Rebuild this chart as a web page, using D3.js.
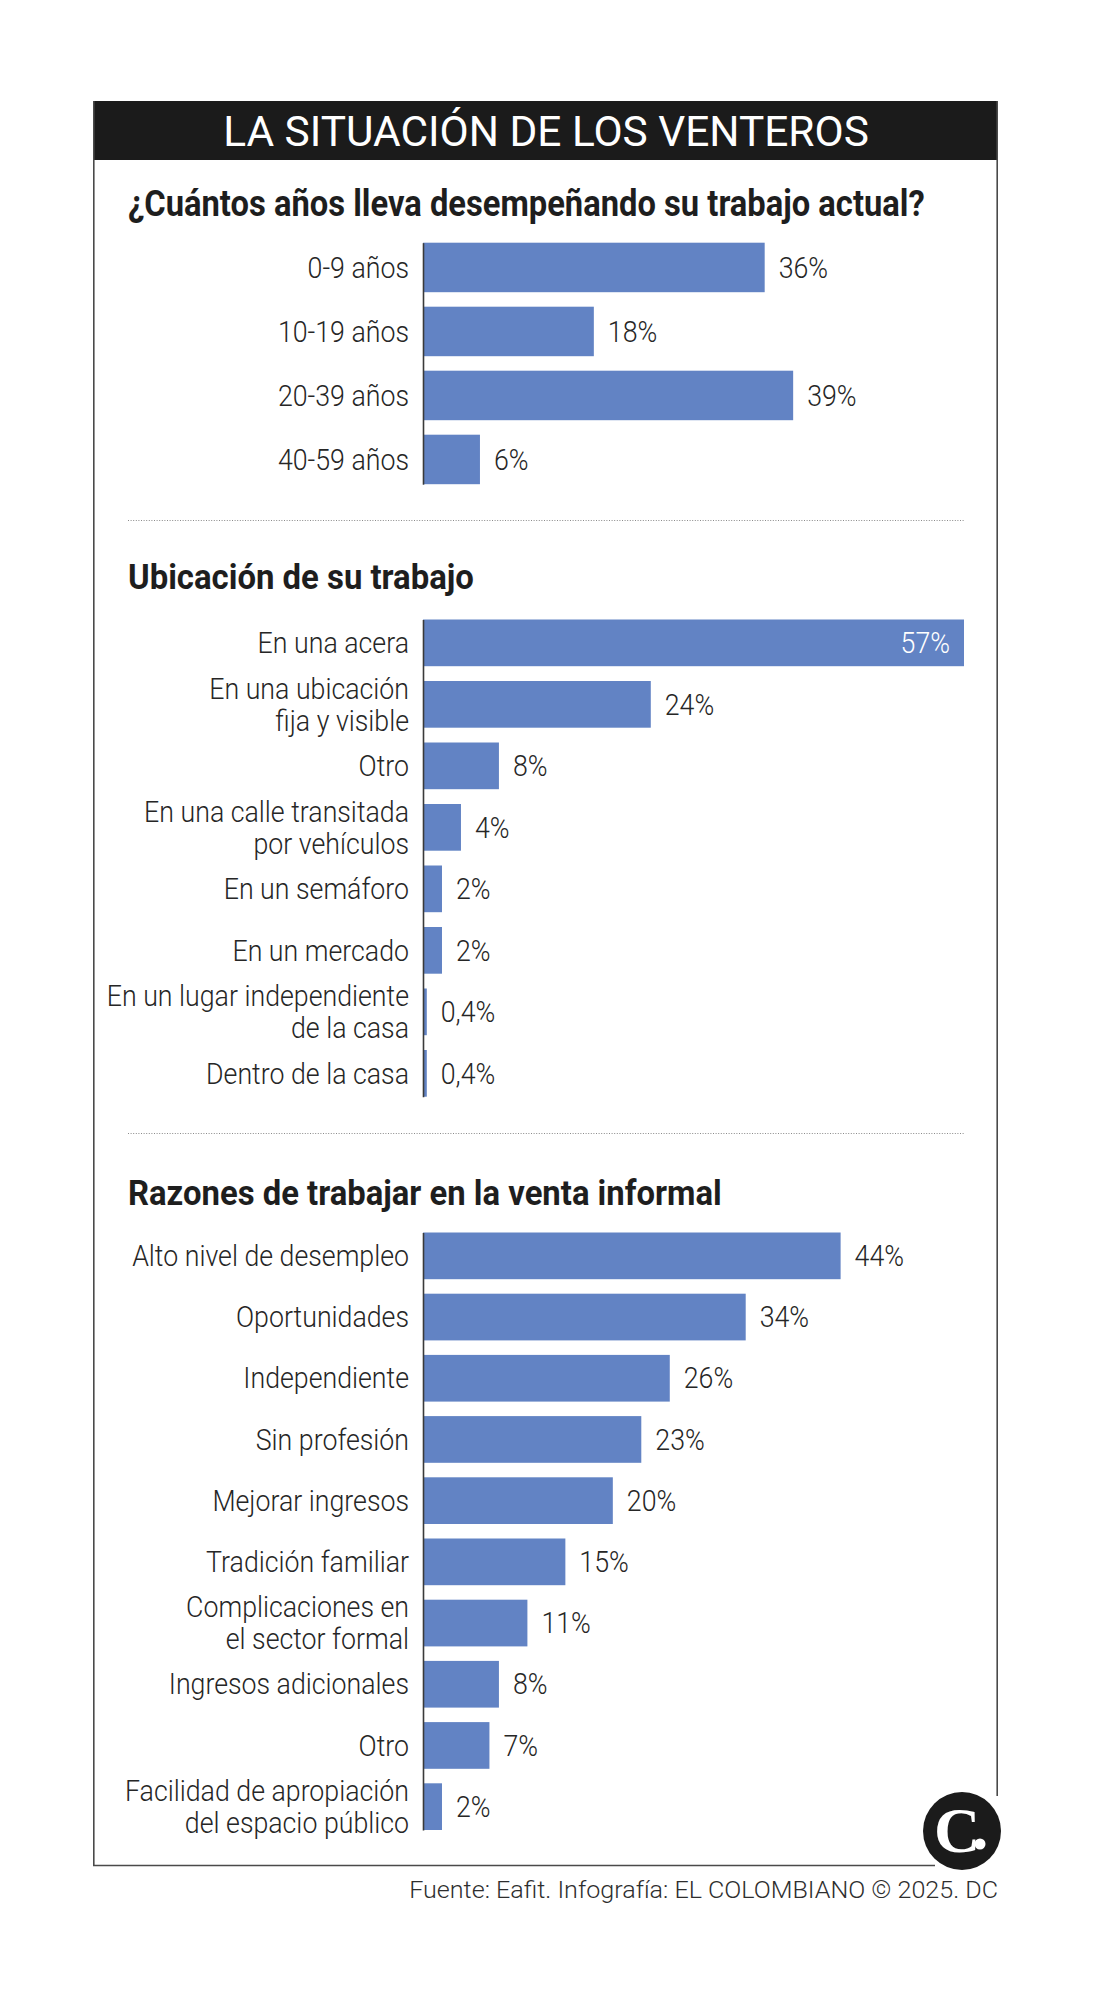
<!DOCTYPE html>
<html>
<head>
<meta charset="utf-8">
<script src="https://cdn.jsdelivr.net/npm/d3@7/dist/d3.min.js"></script>
<style>
  html, body { margin: 0; padding: 0; background: #ffffff; }
  svg { display: block; }
  text { font-family: "Roboto", "Noto Sans", sans-serif; }
</style>
</head>
<body>
<svg id="chart" width="1098" height="2000"></svg>
<script>
// ---------------- DATA ----------------
const chartTitle = "LA SITUACIÓN DE LOS VENTEROS";

const q1Title = "¿Cuántos años lleva desempeñando su trabajo actual?";
const q1Categories = ["0-9 años", "10-19 años", "20-39 años", "40-59 años"];
const q1Values = [36, 18, 39, 6];

const q2Title = "Ubicación de su trabajo";
const q2Categories = [
  "En una acera",
  "En una ubicación\nfija y visible",
  "Otro",
  "En una calle transitada\npor vehículos",
  "En un semáforo",
  "En un mercado",
  "En un lugar independiente\nde la casa",
  "Dentro de la casa"
];
const q2Values = [57, 24, 8, 4, 2, 2, 0.4, 0.4];

const q3Title = "Razones de trabajar en la venta informal";
const q3Categories = [
  "Alto nivel de desempleo",
  "Oportunidades",
  "Independiente",
  "Sin profesión",
  "Mejorar ingresos",
  "Tradición familiar",
  "Complicaciones en\nel sector formal",
  "Ingresos adicionales",
  "Otro",
  "Facilidad de apropiación\ndel espacio público"
];
const q3Values = [44, 34, 26, 23, 20, 15, 11, 8, 7, 2];

const sourceText = "Fuente: Eafit. Infografía: EL COLOMBIANO © 2025. DC";

// ---------------- LAYOUT / STYLE ----------------
const BAR = "#6283c4";
const INK = "#262626";
const FRAME = "#4a4a4a";
const svg = d3.select("#chart");

const x = d3.scaleLinear().domain([0, 57]).range([423, 964]);
const fmt = v => String(v).replace(".", ",") + "%";

function fitText(str, px, py, fs, weight, fill, anchor, targetW) {
  const t = svg.append("text")
    .attr("text-anchor", anchor)
    .attr("font-size", fs)
    .attr("font-weight", weight)
    .attr("fill", fill)
    .text(str);
  const w = t.node().getComputedTextLength();
  const sx = targetW / w;
  t.attr("transform", `translate(${px},${py}) scale(${sx},1)`);
  return t;
}

// calibrate condensed factor for labels
const LFS = 30;
const probe = svg.append("text").attr("font-size", LFS).attr("font-weight", 300)
  .text("Alto nivel de desempleo");
const LSX = 277 / probe.node().getComputedTextLength();
probe.remove();

// ---------------- FRAME ----------------
svg.append("rect").attr("x", 93).attr("y", 101).attr("width", 905).attr("height", 59)
  .attr("fill", "#1b1b1b");
svg.append("line").attr("x1", 93.8).attr("x2", 93.8).attr("y1", 101).attr("y2", 1866)
  .attr("stroke", FRAME).attr("stroke-width", 1.6);
svg.append("line").attr("x1", 93).attr("x2", 935).attr("y1", 1865.5).attr("y2", 1865.5)
  .attr("stroke", FRAME).attr("stroke-width", 1.6);
svg.append("line").attr("x1", 997.2).attr("x2", 997.2).attr("y1", 101).attr("y2", 1796)
  .attr("stroke", FRAME).attr("stroke-width", 1.6);

fitText(chartTitle, 546, 146, 43, 400, "#ffffff", "middle", 646);

// ---------------- SECTIONS ----------------
const sections = [
  { title: q1Title, cats: q1Categories, vals: q1Values, titleY: 216, titleW: 797, top: 242.7, step: 64, bar: 49.5, dotY: null },
  { title: q2Title, cats: q2Categories, vals: q2Values, titleY: 589, titleW: 346, top: 619.5, step: 61.5, bar: 46.7, dotY: 520.5 },
  { title: q3Title, cats: q3Categories, vals: q3Values, titleY: 1205, titleW: 594, top: 1232.5, step: 61.2, bar: 46.7, dotY: 1133.5 }
];

sections.forEach(s => {
  if (s.dotY !== null) {
    svg.append("line").attr("x1", 128).attr("x2", 964).attr("y1", s.dotY).attr("y2", s.dotY)
      .attr("stroke", "#8a8a8a").attr("stroke-width", 1).attr("stroke-dasharray", "1,1.6");
  }
  fitText(s.title, 128, s.titleY, 36, 700, "#1e1e1e", "start", s.titleW);

  const n = s.cats.length;
  const p = 1 - s.bar / s.step;
  const y = d3.scaleBand().domain(s.cats)
    .range([s.top, s.top + s.step * (n - p)])
    .paddingInner(p).paddingOuter(0);

  const g = svg.append("g");
  const data = s.cats.map((c, i) => ({ c, v: s.vals[i] }));

  g.selectAll("rect.bar").data(data).join("rect")
    .attr("class", "bar")
    .attr("x", x(0))
    .attr("y", d => y(d.c))
    .attr("width", d => x(d.v) - x(0))
    .attr("height", y.bandwidth())
    .attr("fill", BAR);

  const ax = g.append("g").attr("transform", `translate(${x(0)},0)`)
    .call(d3.axisLeft(y).tickSize(0).tickFormat(""));
  ax.select(".domain").attr("stroke", "#3a3a3a").attr("stroke-width", 1.6);

  data.forEach(d => {
    const lines = d.c.split("\n");
    const cy = y(d.c) + y.bandwidth() / 2 + 0.34 * LFS;
    const lh = 32;
    lines.forEach((ln, k) => {
      const ly = cy + (k - (lines.length - 1) / 2) * lh;
      g.append("text")
        .attr("text-anchor", "end")
        .attr("font-size", LFS).attr("font-weight", 300).attr("fill", INK)
        .attr("transform", `translate(${x(0) - 14},${ly}) scale(${LSX},1)`)
        .text(ln);
    });
    const inside = x(d.v) > 900;
    const vx = inside ? x(d.v) - 14 : x(d.v) + 14;
    g.append("text")
      .attr("text-anchor", inside ? "end" : "start")
      .attr("font-size", LFS).attr("font-weight", 300)
      .attr("fill", inside ? "#ffffff" : INK)
      .attr("transform", `translate(${vx},${cy}) scale(${LSX},1)`)
      .text(fmt(d.v));
  });
});

// ---------------- LOGO & SOURCE ----------------
svg.append("circle").attr("cx", 962).attr("cy", 1831).attr("r", 39).attr("fill", "#1b1b1b");
svg.append("text").attr("x", 957).attr("y", 1852).attr("text-anchor", "middle")
  .style("font-family", "'Liberation Serif', 'DejaVu Serif', serif")
  .attr("font-weight", 700).attr("font-size", 64).attr("fill", "#ffffff")
  .text("C");
svg.append("circle").attr("cx", 980).attr("cy", 1844).attr("r", 5.5).attr("fill", "#ffffff");

fitText(sourceText, 998, 1898, 23, 300, "#2e2e2e", "end", 589);
</script>
</body>
</html>
